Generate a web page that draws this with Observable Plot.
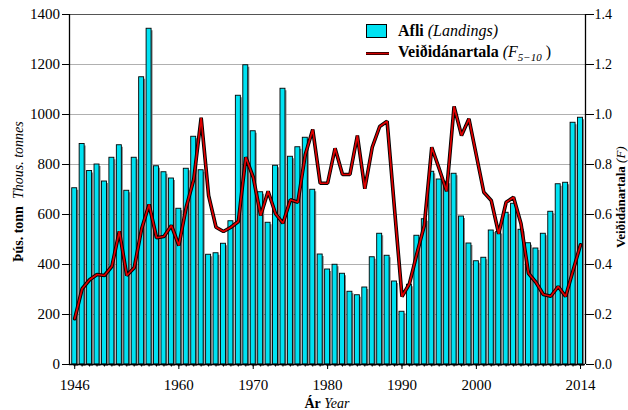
<!DOCTYPE html>
<html><head><meta charset="utf-8">
<script src="https://cdn.jsdelivr.net/npm/d3@7"></script>
<script src="https://cdn.jsdelivr.net/npm/@observablehq/plot@0.6"></script>
<style>
body{margin:0;background:#fff;font-family:"Liberation Serif",serif;}
#wrap{position:relative;width:628px;height:410px;overflow:hidden;}
#legend{position:absolute;left:366px;top:20px;font-size:16px;color:#000;}
#legend .row{display:flex;align-items:center;height:22px;}
#legend .sw{width:21px;height:14px;margin-right:11px;box-sizing:border-box;}
#legend .bar{background:#00e2f2;border:1px solid #000;}
#legend .ln{height:3px;background:#d00000;border-top:0.8px solid #400;border-bottom:0.8px solid #400;width:23px;margin-right:9px;}
.ylab{position:absolute;font-size:14px;white-space:nowrap;transform-origin:center;line-height:1.1;}
</style></head>
<body><div id="wrap"></div>
<script>
const years = [1946,1947,1948,1949,1950,1951,1952,1953,1954,1955,1956,1957,1958,1959,1960,1961,1962,1963,1964,1965,1966,1967,1968,1969,1970,1971,1972,1973,1974,1975,1976,1977,1978,1979,1980,1981,1982,1983,1984,1985,1986,1987,1988,1989,1990,1991,1992,1993,1994,1995,1996,1997,1998,1999,2000,2001,2002,2003,2004,2005,2006,2007,2008,2009,2010,2011,2012,2013,2014];
const landings = [705,882,774,800,732,827,877,695,827,1149,1343,793,769,744,623,783,911,777,439,445,483,573,1075,1197,933,689,567,795,1103,831,869,907,699,440,380,399,363,291,277,308,429,523,435,332,211,319,515,581,771,740,731,763,592,484,413,427,536,530,607,643,539,485,464,523,611,721,727,967,987];
const fishingF = [0.183,0.303,0.339,0.36,0.356,0.393,0.533,0.356,0.387,0.543,0.64,0.507,0.512,0.556,0.476,0.63,0.74,0.987,0.676,0.549,0.532,0.549,0.572,0.829,0.749,0.596,0.693,0.603,0.565,0.659,0.649,0.84,0.94,0.725,0.725,0.865,0.76,0.76,0.916,0.703,0.869,0.952,0.973,0.62,0.272,0.323,0.443,0.556,0.869,0.783,0.693,1.032,0.916,0.983,0.836,0.689,0.656,0.523,0.649,0.669,0.563,0.365,0.329,0.28,0.273,0.312,0.272,0.376,0.479];
const labelYears = [1946,1960,1970,1980,1990,2000,2014];
const leftTicks = [0,200,400,600,800,1000,1200,1400];
const rightTicks = [0,0.2,0.4,0.6,0.8,1.0,1.2,1.4];

const data = years.map((y,i)=>({year:y, landings:landings[i], F:fishingF[i]}));
const k = 1000; // F scaled onto the landings axis
const hw = 0.335;
const x0 = 1945.3, x1 = 2014.67;

const chart = Plot.plot({
  width:628, height:410,
  marginLeft:69, marginRight:43, marginTop:14, marginBottom:46,
  style:{fontFamily:"Liberation Serif, serif", fontSize:"15px", color:"#000", background:"#fff"},
  x:{type:"linear", domain:[x0, x1]},
  y:{domain:[0,1400]},
  marks:[
    Plot.ruleY(leftTicks.slice(0,-1), {stroke:"#b0b0b0", strokeWidth:1}),
    Plot.ruleY([1400], {stroke:"#555", strokeWidth:1.2}),
    Plot.rectY(data, {x1:d=>d.year-hw, x2:d=>d.year+hw, y:"landings", fill:"#808080", dx:1.5, dy:2}),
    Plot.rectY(data, {x1:d=>d.year-hw, x2:d=>d.year+hw, y:"landings", fill:"#00e2f2", stroke:"#000", strokeWidth:0.9}),
    Plot.line(data, {x:"year", y:d=>d.F*k, stroke:"#000", strokeWidth:3.6, strokeLinejoin:"miter"}),
    Plot.line(data, {x:"year", y:d=>d.F*k, stroke:"#e00000", strokeWidth:1.7, strokeLinejoin:"miter"}),
    Plot.ruleX([x0], {stroke:"#000", strokeWidth:1.3}),
    Plot.ruleX([x1], {stroke:"#000", strokeWidth:1.3}),
    Plot.ruleY([0], {stroke:"#000", strokeWidth:1.3}),
    Plot.axisX({ticks:years, tickSize:2.5, tickFormat:()=>"", label:null}),
    Plot.axisX({ticks:labelYears, tickSize:5, tickPadding:10, tickFormat:d=>String(d), label:null, fontSize:15}),
    Plot.axisY({anchor:"left", ticks:leftTicks, tickSize:7, tickPadding:2.5, tickFormat:d=>String(d), label:null, fontSize:15}),
    Plot.axisY({anchor:"right", ticks:rightTicks.map(v=>v*k), tickSize:8, tickPadding:1, tickFormat:d=>(d/k).toFixed(1), label:null, fontSize:14})
  ]
});
const wrap = document.getElementById("wrap");
wrap.appendChild(chart);

const legend = document.createElement("div");
legend.id = "legend";
legend.innerHTML = `<div class="row"><div class="sw bar"></div><span><b>Afli</b> <i>(Landings)</i></span></div>
<div class="row"><div class="sw ln"></div><span><b>Veiðidánartala</b> <i>(F<sub style="font-size:11px">5−10</sub></i> )</span></div>`;
wrap.appendChild(legend);

function addLabel(html, cx, cy, fs){
  const el = document.createElement("div");
  el.className = "ylab";
  el.style.fontSize = fs + "px";
  el.innerHTML = html;
  wrap.appendChild(el);
  const w = el.offsetWidth, h = el.offsetHeight;
  el.style.left = (cx - w/2) + "px";
  el.style.top = (cy - h/2) + "px";
  el.style.transform = "rotate(-90deg)";
}
addLabel("<b>Þús. tonn</b>&nbsp; <i>Thous. tonnes</i>", 18, 191, 14);
addLabel("<b>Veiðidánartala</b> <i>(F)</i>", 621, 197, 13);
const xl = document.createElement("div");
xl.className = "ylab";
xl.innerHTML = "<b>Ár</b> <i>Year</i>";
wrap.appendChild(xl);
xl.style.left = (327 - xl.offsetWidth/2) + "px";
xl.style.top = (403 - xl.offsetHeight/2) + "px";
</script></body></html>
